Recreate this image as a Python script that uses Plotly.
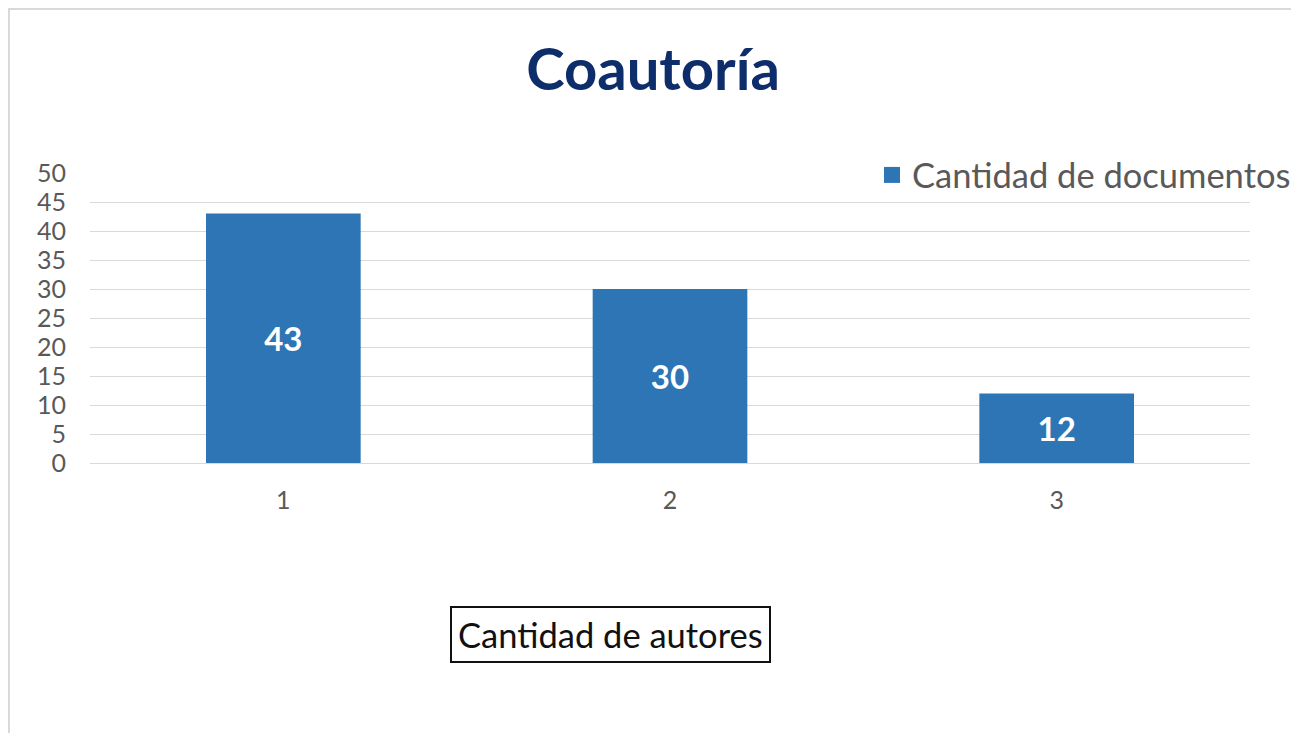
import plotly.graph_objects as go

categories = ["1", "2", "3"]
documentos = [43, 30, 12]
y_ticks = [0, 5, 10, 15, 20, 25, 30, 35, 40, 45, 50]

# the page body has an 8px margin, so the figure starts at page (8, 8)
OFF = 8
W, H = 1299 - OFF, 733 - OFF
L, R, T, B = 90 - OFF, W - (1250 - OFF), 173 - OFF, H - (463 - OFF)
pw = W - L - R
ph = H - T - B

def px_x(p):
    return (p - OFF - L) / pw

def px_y(p):
    return (H - B - (p - OFF)) / ph

fig = go.Figure()
fig.add_trace(go.Bar(
    x=categories, y=documentos, name="Cantidad de documentos",
    marker=dict(color="#2E75B6", line=dict(width=0)),
    width=0.4, showlegend=False, legendgroup="d",
    texttemplate="<b>%{y}</b>", textposition="inside", insidetextanchor="middle",
    textfont=dict(family="Lato", size=33, color="white"),
    textangle=0,
))
# legend proxy with a larger square swatch
fig.add_trace(go.Scatter(
    x=[None], y=[None], mode="markers", name="Cantidad de documentos",
    marker=dict(symbol="square", size=21, color="#2E75B6"), legendgroup="d",
))

fig.update_layout(
    width=W, height=H,
    margin=dict(l=L, r=R, t=T, b=B, autoexpand=False),
    paper_bgcolor="white", plot_bgcolor="white",
    font=dict(family="Lato", color="#595959"),
    title=dict(text="<b>Coautoría</b>", x=(653 - OFF) / W, xanchor="center",
               y=1 - (70 - OFF) / H, yanchor="middle", yref="container",
               font=dict(family="Lato", size=58, color="#0E2D6B")),
    showlegend=True,
    legend=dict(x=px_x(872), y=px_y(175), xanchor="left", yanchor="middle",
                font=dict(family="Lato", size=34.5, color="#595959"),
                bgcolor="rgba(0,0,0,0)", itemwidth=30, borderwidth=0),
    xaxis=dict(type="category", showgrid=False, showline=False, zeroline=False,
               tickfont=dict(size=25, color="#595959"), ticks="", ticklabelstandoff=20),
    yaxis=dict(range=[0, 50], tickvals=y_ticks, showgrid=True, gridcolor="#D9D9D9", gridwidth=1,
               zeroline=True, zerolinecolor="#D9D9D9", zerolinewidth=1, showline=False,
               tickfont=dict(size=25, color="#595959"), ticks="", ticklabelstandoff=23),
    bargap=0.6,
)

fig.add_shape(type="rect", xref="paper", yref="paper",
              x0=px_x(9), x1=px_x(1295), y0=px_y(760), y1=px_y(9),
              line=dict(color="#D9D9D9", width=2), fillcolor="rgba(0,0,0,0)", layer="below")

fig.add_annotation(text="Cantidad de autores", xref="paper", yref="paper",
                   x=px_x(610), y=px_y(634.5), xanchor="center", yanchor="middle",
                   showarrow=False, font=dict(family="Lato", size=34.5, color="#111111"),
                   bordercolor="#111111", borderwidth=2, borderpad=6, bgcolor="white")

fig.write_html("out.html")
